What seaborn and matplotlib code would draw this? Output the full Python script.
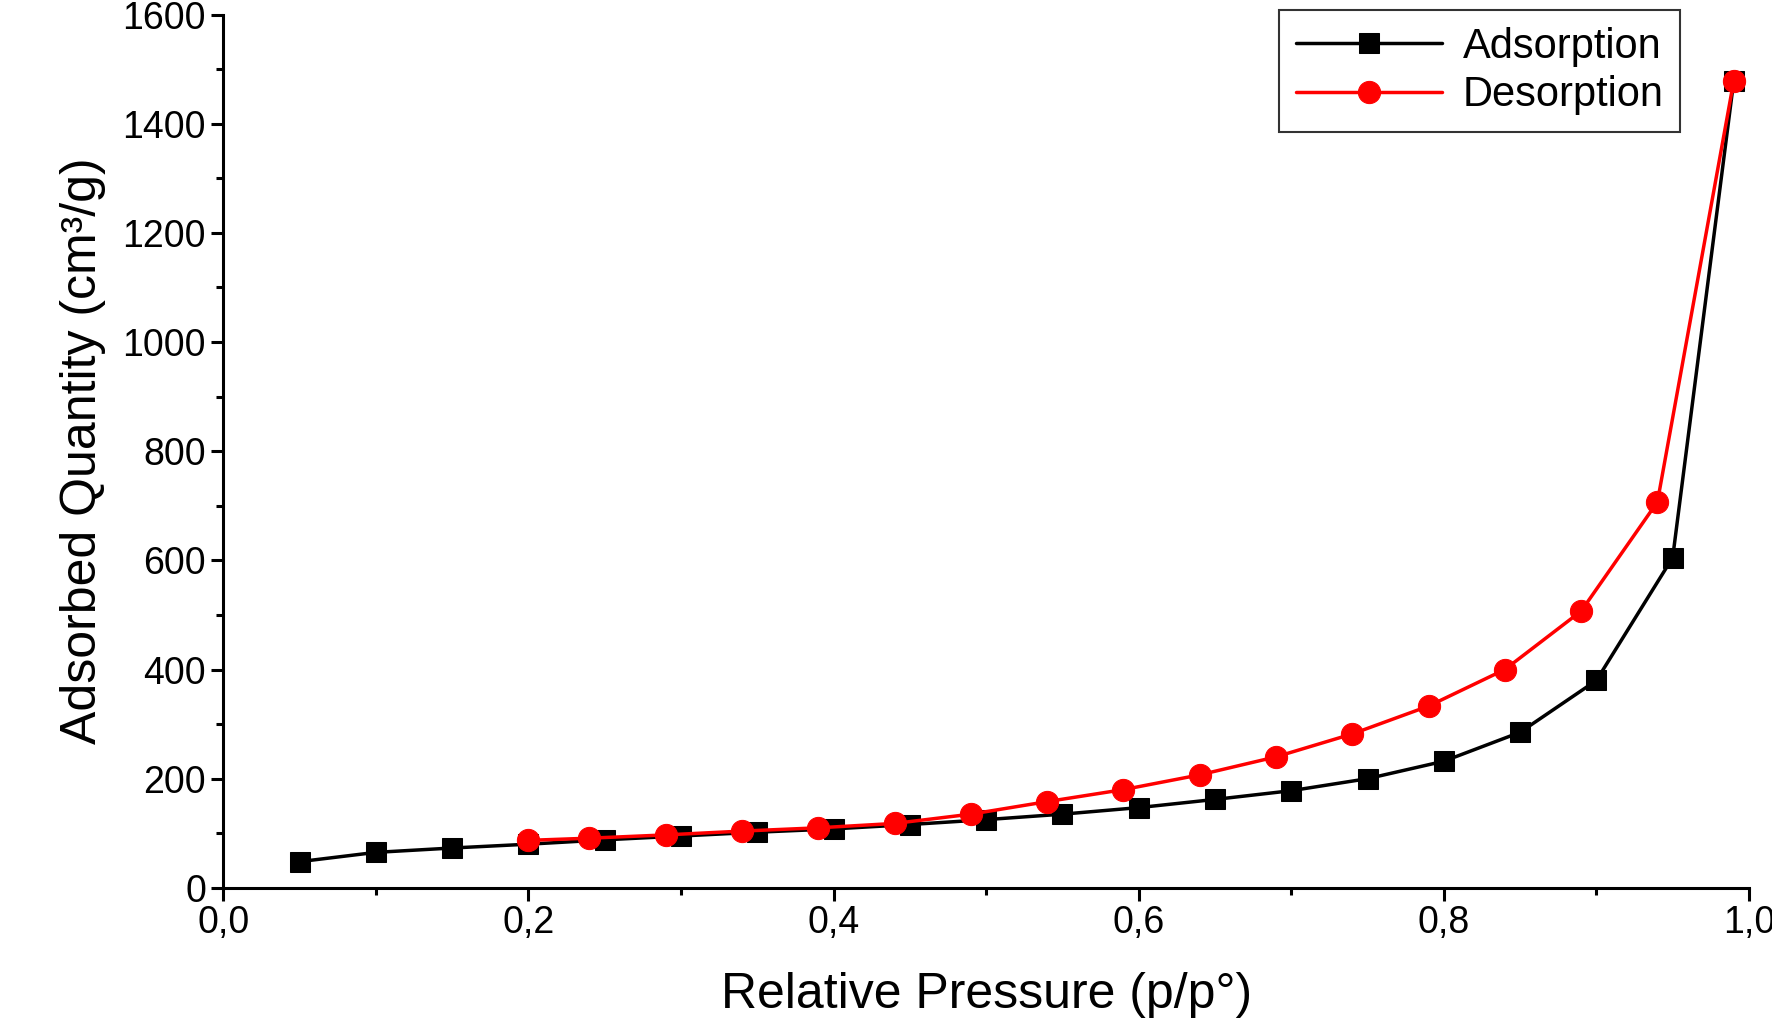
import matplotlib
matplotlib.use("Agg")
import matplotlib.pyplot as plt
import seaborn as sns
import pandas as pd
from matplotlib.ticker import MultipleLocator, FuncFormatter

ads_x = [0.05, 0.10, 0.15, 0.20, 0.25, 0.30, 0.35, 0.40, 0.45, 0.50, 0.55, 0.60, 0.65, 0.70, 0.75, 0.80, 0.85, 0.90, 0.95, 0.99]
ads_y = [48, 65, 73, 80, 88, 95, 102, 108, 116, 125, 135, 147, 162, 178, 200, 232, 285, 380, 605, 1478]
des_x = [0.20, 0.24, 0.29, 0.34, 0.39, 0.44, 0.49, 0.54, 0.59, 0.64, 0.69, 0.74, 0.79, 0.84, 0.89, 0.94, 0.99]
des_y = [87, 91, 97, 104, 110, 118, 135, 158, 180, 207, 240, 282, 333, 400, 507, 707, 1478]

sns.set_style("ticks")
plt.rcParams['font.family'] = ['Liberation Sans', 'DejaVu Sans']
plt.rcParams.update({"text.color": "black", "axes.labelcolor": "black",
                     "xtick.color": "black", "ytick.color": "black",
                     "axes.edgecolor": "black"})

fig = plt.figure(figsize=(17.72, 10.36), dpi=100)
ax = fig.add_axes([0.126, 0.143, 0.861, 0.843])

ads = pd.DataFrame({"x": ads_x, "y": ads_y})
des = pd.DataFrame({"x": des_x, "y": des_y})
sns.lineplot(data=ads, x="x", y="y", ax=ax, color="black", marker="s", markersize=14,
             markeredgecolor="black", linewidth=2.5, label="Adsorption")
sns.lineplot(data=des, x="x", y="y", ax=ax, color="#ff0000", marker="o", markersize=16,
             markeredgecolor="#ff0000", linewidth=2.5, label="Desorption")

ax.set_xlim(0, 1.0)
ax.set_ylim(0, 1600)
ax.xaxis.set_major_locator(MultipleLocator(0.2))
ax.xaxis.set_minor_locator(MultipleLocator(0.1))
ax.yaxis.set_major_locator(MultipleLocator(200))
ax.yaxis.set_minor_locator(MultipleLocator(100))
ax.xaxis.set_major_formatter(FuncFormatter(lambda v, p: f"{v:.1f}".replace(".", ",")))
ax.tick_params(which="major", length=9, width=2.2, labelsize=27, direction="out")
ax.tick_params(which="minor", length=5, width=2.2, direction="out")
for s in ["left", "bottom"]:
    ax.spines[s].set_linewidth(2.2)
sns.despine(ax=ax)

ax.set_xlabel("Relative Pressure (p/p°)", fontsize=36, labelpad=22)
ax.set_ylabel("Adsorbed Quantity (cm³/g)", fontsize=36, labelpad=12)

leg = ax.legend(loc="upper right", bbox_to_anchor=(0.955, 1.005), fontsize=30, frameon=True,
                fancybox=False, edgecolor="black", handlelength=3.5, borderaxespad=0,
                labelspacing=0.2, handletextpad=0.5)
leg.get_frame().set_linewidth(1.5)

fig.savefig("out.png", dpi=100)
